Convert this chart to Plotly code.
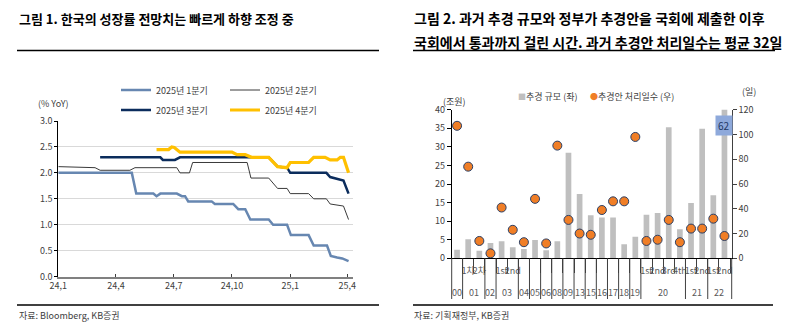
import plotly.graph_objects as go

W, H = 792, 327
FONT = "Noto Sans CJK KR, Noto Sans, sans-serif"


def px(x):
    return x / W


def py(y):
    return 1 - y / H


# ---------------- Left chart data (Korea GDP growth forecasts, % YoY) ----------------
q1_dates = ["2024-01-01", "2024-04-26", "2024-05-03", "2024-05-30", "2024-06-04", "2024-06-10",
            "2024-07-06", "2024-07-14", "2024-07-19", "2024-07-24", "2024-08-30", "2024-09-04",
            "2024-10-03", "2024-10-11", "2024-10-22", "2024-10-30", "2024-11-28", "2024-12-05",
            "2024-12-27", "2025-01-02", "2025-01-30", "2025-02-07", "2025-02-28", "2025-03-06",
            "2025-03-16", "2025-03-24", "2025-04-03"]
q1_vals = [2.0, 2.0, 1.6, 1.6, 1.55, 1.6, 1.6, 1.55, 1.55, 1.45, 1.45, 1.4, 1.4, 1.3, 1.3, 1.1,
           1.1, 1.0, 1.0, 0.8, 0.8, 0.6, 0.6, 0.4, 0.37, 0.35, 0.3]

q2_dates = ["2024-01-01", "2024-02-28", "2024-03-07", "2024-04-23", "2024-05-01", "2024-07-06",
            "2024-07-11", "2024-07-26", "2024-07-31", "2024-10-25", "2024-10-31", "2024-11-28",
            "2024-12-12", "2024-12-27", "2025-01-01", "2025-01-30", "2025-02-07", "2025-02-27",
            "2025-03-05", "2025-03-26", "2025-04-03"]
q2_vals = [2.12, 2.1, 2.05, 2.05, 2.1, 2.1, 2.0, 2.0, 2.2, 2.2, 1.9, 1.9, 1.7, 1.7, 1.6, 1.6,
           1.5, 1.5, 1.4, 1.36, 1.1]

q3_dates = ["2024-03-07", "2024-06-10", "2024-06-14", "2024-07-03", "2024-07-11", "2024-11-28",
            "2024-12-12", "2024-12-27", "2025-01-01", "2025-02-27", "2025-03-05", "2025-03-16",
            "2025-03-26", "2025-04-03"]
q3_vals = [2.3, 2.3, 2.25, 2.25, 2.3, 2.3, 2.12, 2.1, 2.0, 2.0, 1.92, 1.88, 1.85, 1.6]

q4_dates = ["2024-06-04", "2024-06-23", "2024-06-28", "2024-07-02", "2024-07-11", "2024-10-01",
            "2024-10-09", "2024-10-22", "2024-11-01", "2024-11-28", "2024-12-12", "2024-12-27",
            "2025-01-01", "2025-01-30", "2025-02-07", "2025-02-25", "2025-03-05", "2025-03-16",
            "2025-03-21", "2025-03-26", "2025-04-03"]
q4_vals = [2.45, 2.45, 2.5, 2.49, 2.4, 2.4, 2.35, 2.35, 2.3, 2.3, 2.12, 2.1, 2.2, 2.2, 2.3, 2.3,
           2.25, 2.25, 2.3, 2.3, 2.0]

series_names = ["2025년 1분기", "2025년 2분기", "2025년 3분기", "2025년 4분기"]
left_tick_dates = ["2024-01-01", "2024-04-01", "2024-07-01", "2024-10-01", "2025-01-01", "2025-04-01"]
left_tick_text = ["24,1", "24,4", "24,7", "24,10", "25,1", "25,4"]

# ---------------- Right chart data (supplementary budgets) ----------------
years = ["00", "01", "01", "02", "03", "03", "04", "05", "06", "08", "09", "13", "15", "16", "17",
         "18", "19", "20", "20", "20", "20", "21", "21", "22", "22"]
subs = ["", "1차", "2차", "", "1st", "2nd", "", "", "", "", "", "", "", "", "",
        "", "", "1st", "2nd", "3rd", "4th", "1st", "2nd", "1st", "2nd"]
budget_trn = [2.3, 5.1, 2.0, 4.1, 4.6, 3.0, 2.5, 4.9, 2.2, 4.6, 28.4, 17.3, 11.6, 11.0, 11.0,
              3.8, 5.8, 11.7, 12.2, 35.3, 7.8, 14.9, 34.9, 17.0, 62.0]
days = [107, 74, 14, 4, 41, 23, 13, 48, 12, 91, 31, 20, 19, 39, 46, 46, 98, 14, 15, 31, 13, 24,
        24, 32, 18]
flag_label = "62"

idx = list(range(len(years)))

fig = go.Figure()

# Left chart lines
colors = ["#6787B1", "#3A3A3A", "#0B2C5C", "#FFC000"]
widths = [2.5, 1.0, 2.5, 3.2]
legends = ["legend", "legend", "legend2", "legend2"]
for d, v, n, c, w, lg in zip([q1_dates, q2_dates, q3_dates, q4_dates],
                             [q1_vals, q2_vals, q3_vals, q4_vals],
                             series_names, colors, widths, legends):
    fig.add_trace(go.Scatter(x=d, y=v, name=n, mode="lines", line=dict(color=c, width=w),
                             xaxis="x", yaxis="y", legend=lg))

# Right chart
hover_lbl = [f"{y} {s}".strip() for y, s in zip(years, subs)]
fig.add_trace(go.Bar(x=idx, y=budget_trn, name="추경 규모 (좌)", customdata=hover_lbl,
                     hovertemplate="%{customdata}: %{y}<extra></extra>",
                     marker=dict(color="#BFBFBF", line=dict(width=0)),
                     xaxis="x2", yaxis="y2", showlegend=False))
fig.add_trace(go.Scatter(x=idx, y=days, name="추경안 처리일수 (우)", mode="markers",
                         customdata=hover_lbl, hovertemplate="%{customdata}: %{y}<extra></extra>",
                         marker=dict(color="#F07E26", size=9, line=dict(color="#2A3F66", width=1)),
                         xaxis="x2", yaxis="y3", showlegend=False))

axis_font = dict(family=FONT, size=9, color="#404040")

fig.update_layout(
    width=W, height=H,
    margin=dict(l=0, r=0, t=0, b=0),
    paper_bgcolor="white", plot_bgcolor="rgba(0,0,0,0)",
    font=dict(family=FONT, size=9, color="#404040"),
    bargap=0.49,
    xaxis=dict(domain=[px(58.3), px(353.3)], anchor="y", type="date",
               range=["2024-01-01", "2025-04-10 12:00"],
               tickvals=left_tick_dates, ticktext=left_tick_text,
               showline=True, linecolor="#808080", linewidth=2,
               ticks="inside", ticklen=3, tickcolor="#404040", showgrid=False,
               tickfont=axis_font, automargin=False, zeroline=False),
    yaxis=dict(domain=[py(276.6), py(121)], anchor="x", range=[0, 3], dtick=0.5,
               tickformat=".1f", showline=True, linecolor="#000000", linewidth=1.2,
               ticks="outside", ticklen=3, tickcolor="#000000",
               showgrid=True, gridcolor="#D9D9D9", gridwidth=1, zeroline=False,
               tickfont=axis_font, automargin=False),
    xaxis2=dict(domain=[px(451.7), px(731.7)], anchor="y2", type="linear",
                range=[-0.48, 24.65], showline=True, linecolor="#000000", linewidth=1,
                tickmode="array", tickvals=idx, ticktext=subs, ticks="", tickangle=0,
                ticklabelstandoff=4,
                minor=dict(tickmode="linear", tick0=0.5, dtick=1, ticks="outside", ticklen=14,
                           tickcolor="#404040", tickwidth=1, showgrid=False),
                showgrid=False, zeroline=False,
                tickfont=dict(family=FONT, size=9, color="#595959"), automargin=False),
    yaxis2=dict(domain=[py(258.3), py(109.7)], anchor="x2", range=[0, 40], dtick=5,
                showline=True, linecolor="#000000", linewidth=1,
                ticks="outside", ticklen=4, tickcolor="#000000", showgrid=False,
                zeroline=False, tickfont=axis_font, automargin=False),
    yaxis3=dict(overlaying="y2", anchor="x2", side="right", range=[0, 120], dtick=20,
                showline=True, linecolor="#404040", linewidth=1,
                ticks="outside", ticklen=4, tickcolor="#404040", showgrid=False,
                zeroline=False, tickfont=axis_font, automargin=False),
    legend=dict(orientation="h", x=px(116), y=py(90), xanchor="left", yanchor="middle",
                bgcolor="rgba(0,0,0,0)", font=dict(family=FONT, size=9, color="#404040"),
                entrywidth=64, entrywidthmode="pixels", itemwidth=30),
    legend2=dict(orientation="h", x=px(116), y=py(110), xanchor="left", yanchor="middle",
                 bgcolor="rgba(0,0,0,0)", font=dict(family=FONT, size=9, color="#404040"),
                 entrywidth=64, entrywidthmode="pixels", itemwidth=30),
    showlegend=True,
)

ann = [
    dict(text="<b>그림 1. 한국의 성장률 전망치는 빠르게 하향 조정 중</b>", x=px(17), y=py(18),
         font=dict(size=13, color="#000000")),
    dict(text="<b>그림 2. 과거 추경 규모와 정부가 추경안을 국회에 제출한 이후</b>", x=px(412), y=py(18),
         font=dict(size=14, color="#000000")),
    dict(text="<b>국회에서 통과까지 걸린 시간. 과거 추경안 처리일수는 평균 32일</b>", x=px(412), y=py(42),
         font=dict(size=14, color="#000000")),
    dict(text="(% YoY)", x=px(36), y=py(103), font=dict(size=9, color="#404040")),
    dict(text="(조원)", x=px(441), y=py(101), font=dict(size=9, color="#404040")),
    dict(text="(일)", x=px(740), y=py(92), font=dict(size=9, color="#404040")),
    dict(text="<span style='color:#BFBFBF;font-size:8px'>■</span>추경 규모 (좌)", x=px(516), y=py(97),
         font=dict(size=9, color="#404040")),
    dict(text="<span style='color:#F07E26;font-size:8px'>●</span>추경안 처리일수 (우)", x=px(588), y=py(97),
         font=dict(size=9, color="#404040")),
    dict(text="자료: Bloomberg, KB증권", x=px(17), y=py(315), font=dict(size=9, color="#404040")),
    dict(text="자료: 기획재정부, KB증권", x=px(412), y=py(315), font=dict(size=9, color="#404040")),
]
for a in ann:
    fig.add_annotation(xref="paper", yref="paper", xanchor="left", yanchor="middle",
                       showarrow=False, font_family=FONT, **a)

# year (group) labels on the second row of the right x axis, and group dividers
groups = []
for i, y in enumerate(years):
    if groups and groups[-1][0] == y:
        groups[-1][1].append(i)
    else:
        groups.append((y, [i]))
div_style = dict(color="#404040", width=1)
for k, (y, members) in enumerate(groups):
    fig.add_annotation(xref="x2", yref="paper", x=sum(members) / len(members), y=py(292),
                       text=y, showarrow=False, xanchor="center", yanchor="middle",
                       font=dict(family=FONT, size=9, color="#595959"))
    if k > 0:
        b = members[0] - 0.5
        fig.add_shape(type="line", xref="x2", yref="paper", x0=b, x1=b,
                      y0=py(258.3), y1=py(299), line=div_style)
for edge in (0, 1):
    fig.add_shape(type="line", xref="x2 domain", yref="paper", x0=edge, x1=edge,
                  y0=py(258.3), y1=py(299), line=div_style)

# flag label for the last (off-scale) budget bar
fig.add_annotation(xref="x2", yref="y3", x=idx[-1], y=107, text=flag_label,
                   showarrow=False, bgcolor="#8EA9DB", borderpad=2,
                   font=dict(family=FONT, size=10, color="#1F3864"))

line_style = dict(color="#000000", width=1.5)
for x0, x1, y in [(17, 379, 50.5), (413, 775, 50.5), (17, 379, 305), (413, 773, 305)]:
    fig.add_shape(type="line", xref="paper", yref="paper", x0=px(x0), x1=px(x1),
                  y0=py(y), y1=py(y), line=line_style)

fig.write_html("out.html")
